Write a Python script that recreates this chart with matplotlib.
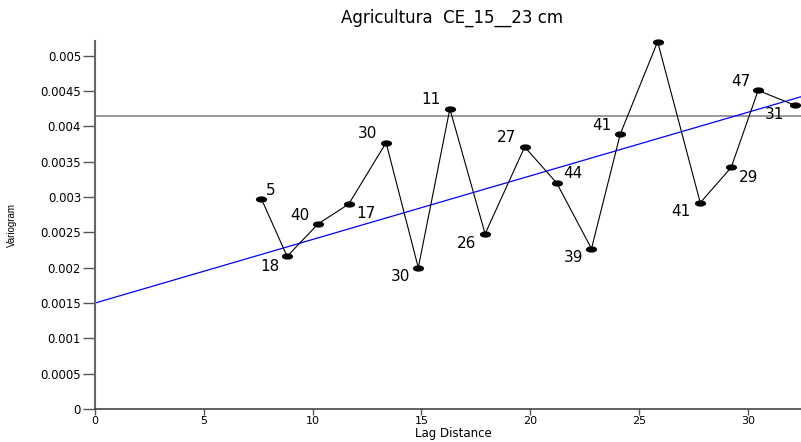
import numpy as np
import matplotlib.pyplot as plt
from matplotlib.path import Path
plt.switch_backend('agg')

plt.rcParams['font.family'] = ['DejaVu Sans']

# experimental variogram (lag, gamma, number of pairs)
lag = [7.64, 8.83, 10.25, 11.66, 13.38, 14.86, 16.31, 17.93, 19.75, 21.22,
       22.82, 24.14, 25.86, 27.82, 29.24, 30.48, 32.17]
gamma = [0.00298, 0.00216, 0.00262, 0.00290, 0.00377, 0.00200, 0.00425, 0.00248,
         0.00371, 0.00320, 0.00227, 0.00389, 0.00520, 0.00292, 0.00342, 0.00451, 0.00430]
pairs = ['5', '18', '40', '17', '30', '30', '11', '26', '27', '44',
         '39', '41', '', '41', '29', '47', '31']
# label offsets in points
offsets = [(7, 6), (-12.5, -7), (-12.7, 5.8), (12.5, -6.7), (-13.2, 6.9), (-12.7, -6), (-13.4, 6.7),
           (-13.2, -6.8), (-13, 6.5), (12, 7), (-13, -6.5), (-13.4, 6.3), (0, 0), (-13.9, -6.3),
           (12.5, -7), (-12.7, 6.5), (-14.7, -6.5)]

sill = 0.00415
intercept = 0.0015
slope = 0.00009

xmax = 32.45
ymax = 0.00521

# flattened dot marker
t = np.linspace(0, 2*np.pi, 40)
ell = Path(np.column_stack([np.cos(t), 0.5*np.sin(t)]), closed=True)

fig = plt.figure(figsize=(8.01, 4.42), dpi=100)
ax = fig.add_axes([95/801, 33/442, (801-95)/801, (409-41)/442])

ax.axhline(sill, color='#888888', lw=1.2, zorder=1)
xl = np.array([0, xmax])
ax.plot(xl, intercept + slope*xl, color='blue', lw=0.9, zorder=2)
ax.plot(lag, gamma, color='black', lw=0.8, marker=ell, markersize=7, zorder=3, clip_on=False)

for x, y, p, off in zip(lag, gamma, pairs, offsets):
    if p:
        ax.annotate(p, (x, y), xytext=off, textcoords='offset points',
                    ha='center', va='center', fontsize=11)

ax.set_xlim(0, xmax)
ax.set_ylim(0, ymax)
ax.set_xticks([0, 5, 10, 15, 20, 25, 30])
ax.set_yticks([0, 0.0005, 0.001, 0.0015, 0.002, 0.0025, 0.003, 0.0035, 0.004, 0.0045, 0.005])
ax.set_yticklabels(['0', '0.0005', '0.001', '0.0015', '0.002', '0.0025', '0.003',
                    '0.0035', '0.004', '0.0045', '0.005'])
ax.tick_params(axis='y', length=9, width=1, color='#555555', labelsize=8.5, pad=1)
ax.tick_params(axis='x', length=4, width=1, color='#555555', labelsize=8, pad=1)
for s in ['top', 'right']:
    ax.spines[s].set_visible(False)
ax.spines['left'].set_color('#666666')
ax.spines['left'].set_linewidth(1.5)
ax.spines['bottom'].set_color('#444444')
ax.spines['bottom'].set_linewidth(1.2)

fig.text(452/801, 1 - 18/442, 'Agricultura  CE_15__23 cm', fontsize=12, ha='center', va='center')
fig.text(453/801, 1 - 434/442, 'Lag Distance', fontsize=8.5, ha='center', va='center')
fig.text(12/801, 1 - 225/442, 'Variogram', rotation=90, ha='center', va='center', fontsize=7,
         family=['Liberation Sans Narrow', 'Liberation Sans', 'DejaVu Sans'])

fig.savefig('out.png', dpi=100)
